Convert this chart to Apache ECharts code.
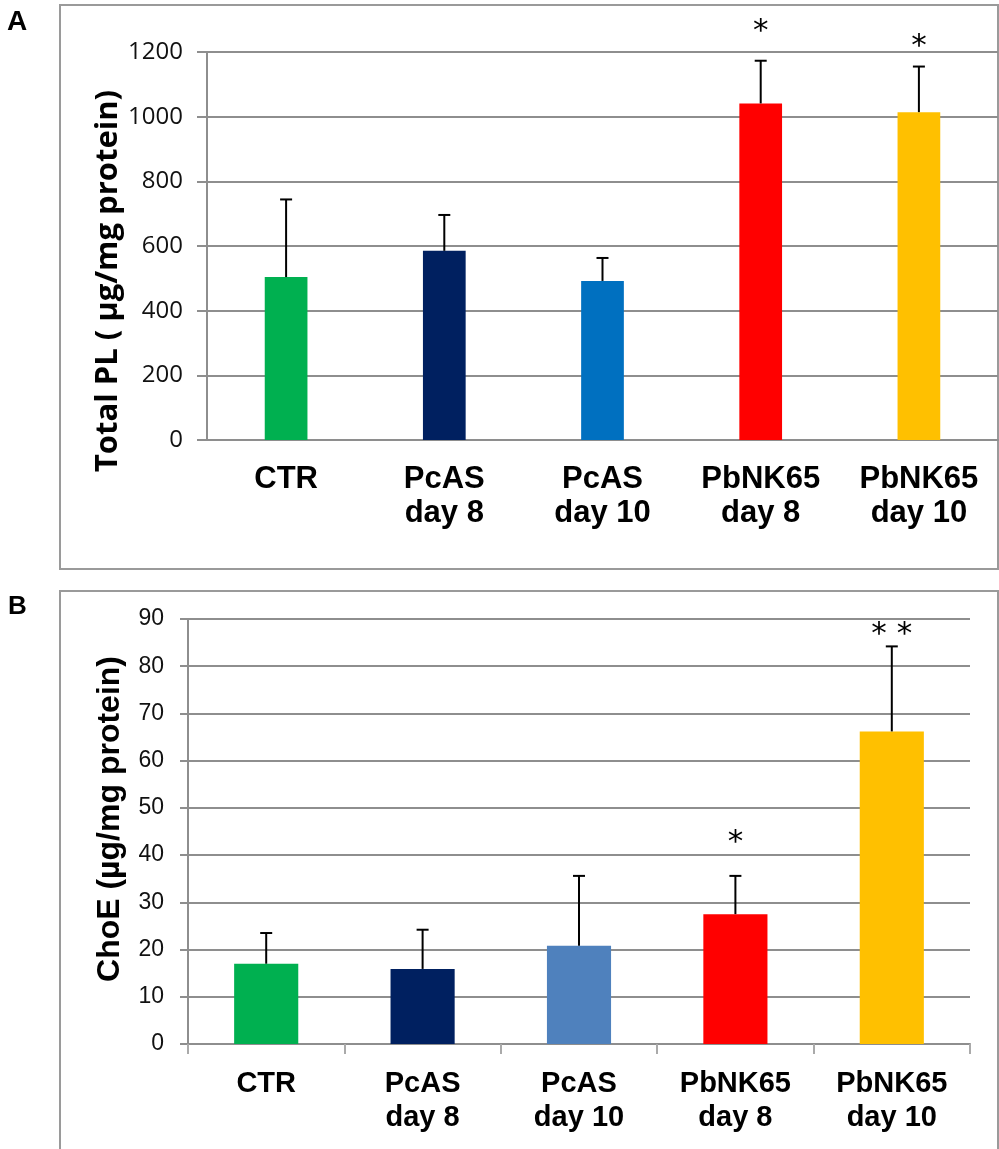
<!DOCTYPE html>
<html>
<head>
<meta charset="utf-8">
<script src="https://cdn.jsdelivr.net/npm/echarts@6/dist/echarts.min.js"></script>
<style>
  html, body { margin: 0; padding: 0; background: #fff; }
  #chart { width: 999px; height: 1149px; }
</style>
</head>
<body>
<div id="chart"></div>
<script>
// Groups shown on both panels
const categories = ['CTR', 'PcAS\nday 8', 'PcAS\nday 10', 'PbNK65\nday 8', 'PbNK65\nday 10'];

// Panel A: total phospholipids (µg/mg protein), mean and SD
const plMean = [504, 585, 492, 1041, 1014];
const plSD   = [240, 111, 71, 132, 141];
const plSig  = ['', '', '', '*', '*'];
const plSigLevel = [null, null, null, 1262, 1216];
const plTicks = { min: 0, max: 1200, interval: 200 };

// Panel B: cholesteryl esters (µg/mg protein), mean and SD
const ceMean = [17.0, 15.9, 20.8, 27.5, 66.2];
const ceSD   = [6.5, 8.3, 14.8, 8.1, 18.0];
const ceSig  = ['', '', '', '*', '* *'];
const ceSigLevel = [null, null, null, 42.6, 86.6];
const ceTicks = { min: 0, max: 90, interval: 10 };

const colorsA = ['#00B050', '#002060', '#0070C0', '#FF0000', '#FFC000'];
const colorsB = ['#00B050', '#002060', '#4F81BD', '#FF0000', '#FFC000'];

const grey = '#8e8e8e';
const chart = echarts.init(document.getElementById('chart'), null, { renderer: 'canvas' });

function barData(means, colors) {
  return means.map((v, i) => ({ value: v, itemStyle: { color: colors[i] } }));
}
function errData(means, sds, sigLevels) {
  return means.map((v, i) => [i, v, v + sds[i], sigLevels[i] == null ? '-' : sigLevels[i]]);
}
// Upper SD whisker with cap, plus the significance marker above it
function errRender(sigs, lw) {
  return function (params, api) {
    const i = api.value(0);
    const base = api.coord([i, api.value(1)]);
    const top = api.coord([i, api.value(2)]);
    const half = 6;
    const children = [
      { type: 'line', shape: { x1: base[0], y1: base[1], x2: top[0], y2: top[1] },
        style: { stroke: '#000', lineWidth: lw } },
      { type: 'line', shape: { x1: top[0] - half, y1: top[1], x2: top[0] + half, y2: top[1] },
        style: { stroke: '#000', lineWidth: lw } }
    ];
    const s = sigs[params.dataIndex];
    if (s) {
      const p = api.coord([i, api.value(3)]);
      children.push({ type: 'text', x: p[0], y: p[1],
        style: { text: s, fill: '#000', font: '31px "DejaVu Sans", sans-serif',
                 align: 'center', verticalAlign: 'middle' } });
    }
    return { type: 'group', children };
  };
}

const yLine = { lineStyle: { color: grey, width: 2 } };

chart.setOption({
  animation: false,
  backgroundColor: '#fff',
  grid: [
    { left: 207, top: 52, width: 791, height: 388 },
    { left: 188, top: 619, width: 782, height: 425 }
  ],
  xAxis: [
    { type: 'category', gridIndex: 0, data: categories,
      axisLine: { lineStyle: { color: grey, width: 2 } },
      axisTick: { show: false },
      axisLabel: { interval: 0, color: '#000', fontSize: 31, fontWeight: 'bold',
                   fontFamily: '"Liberation Sans", Arial, sans-serif', lineHeight: 34, margin: 22 } },
    { type: 'category', gridIndex: 1, data: categories,
      axisLine: { lineStyle: { color: grey, width: 2 } },
      axisTick: { show: true, length: 10, lineStyle: { color: '#aaaaaa', width: 2 } },
      axisLabel: { interval: 0, color: '#000', fontSize: 29, fontWeight: 'bold',
                   fontFamily: '"Liberation Sans", Arial, sans-serif', lineHeight: 34, margin: 23 } }
  ],
  yAxis: [
    { type: 'value', gridIndex: 0, min: plTicks.min, max: plTicks.max, interval: plTicks.interval,
      axisLine: { show: true, lineStyle: { color: grey, width: 2 } },
      axisTick: { show: true, length: 10, lineStyle: { color: grey, width: 2 } },
      splitLine: yLine,
      axisLabel: { color: '#111', fontSize: 24, fontFamily: '"Open Sans", "Noto Sans", sans-serif', margin: 24,
                   formatter: v => String(v) } },
    { type: 'value', gridIndex: 1, min: ceTicks.min, max: ceTicks.max, interval: ceTicks.interval,
      axisLine: { show: true, lineStyle: { color: grey, width: 2 } },
      axisTick: { show: true, length: 8, lineStyle: { color: grey, width: 2 } },
      splitLine: yLine,
      axisLabel: { color: '#111', fontSize: 23, fontFamily: '"Liberation Sans", Arial, sans-serif', margin: 24 } }
  ],
  series: [
    { type: 'bar', xAxisIndex: 0, yAxisIndex: 0, barWidth: '27%', data: barData(plMean, colorsA), z: 3 },
    { type: 'custom', xAxisIndex: 0, yAxisIndex: 0, renderItem: errRender(plSig, 2),
      data: errData(plMean, plSD, plSigLevel), z: 4 },
    { type: 'bar', xAxisIndex: 1, yAxisIndex: 1, barWidth: '41%', data: barData(ceMean, colorsB), z: 3 },
    { type: 'custom', xAxisIndex: 1, yAxisIndex: 1, renderItem: errRender(ceSig, 2),
      data: errData(ceMean, ceSD, ceSigLevel), z: 4 }
  ],
  graphic: [
    { type: 'rect', shape: { x: 60, y: 5, width: 938, height: 564 },
      style: { fill: 'none', stroke: '#9a9a9a', lineWidth: 2 }, z: 0 },
    { type: 'rect', shape: { x: 60, y: 591, width: 938, height: 580 },
      style: { fill: 'none', stroke: '#9a9a9a', lineWidth: 2 }, z: 0 },
    { type: 'text', x: 7, y: 8,
      style: { text: 'A', fill: '#000', font: 'bold 28px "Liberation Sans", Arial, sans-serif' } },
    { type: 'text', x: 8, y: 594,
      style: { text: 'B', fill: '#000', font: 'bold 26px "Liberation Sans", Arial, sans-serif' } },
    { type: 'text', x: 108, y: 281, rotation: Math.PI / 2,
      style: { text: 'Total PL ( µg/mg protein)', fill: '#000',
               font: 'bold 31px "Open Sans", "Noto Sans", sans-serif', align: 'center', verticalAlign: 'middle' } },
    { type: 'text', x: 110, y: 819, rotation: Math.PI / 2,
      style: { text: 'ChoE (µg/mg protein)', fill: '#000',
               font: 'bold 32px "Liberation Sans", Arial, sans-serif', align: 'center', verticalAlign: 'middle' } }
  ]
});
</script>
</body>
</html>
